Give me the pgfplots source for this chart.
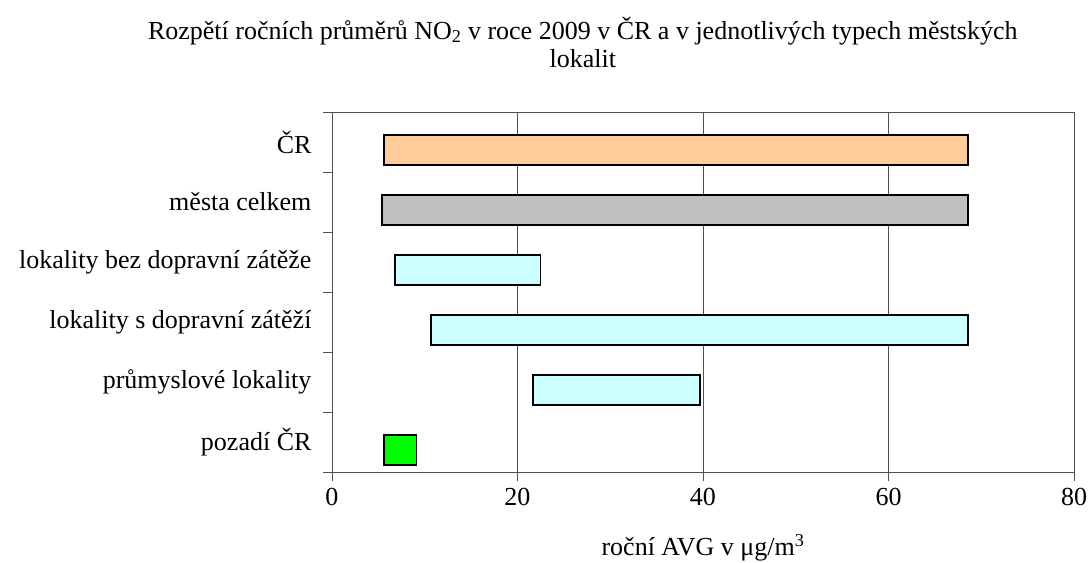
\documentclass[border=0pt]{standalone}
\usepackage{pgfplots}
\pgfplotsset{compat=1.18}
\usepackage{pgfplotstable}
\usepackage{fontspec}
\setmainfont{Liberation Serif}

\definecolor{peach}{HTML}{FFCC99}
\definecolor{bargray}{HTML}{C0C0C0}
\definecolor{palecyan}{HTML}{CCFFFF}
\definecolor{brightgreen}{HTML}{00FF00}
\definecolor{axisgray}{HTML}{505050}

% start of each range and its length, one column per fill colour
\pgfplotstableread{
y start peach gray cyan green
5 5.6 63.0 0 0 0
4 5.4 0 63.2 0 0
3 6.8 0 0 15.7 0
2 10.7 0 0 57.9 0
1 21.7 0 0 18.0 0
0 5.6 0 0 0 3.5
}\ranges

\begin{document}
\begin{tikzpicture}
\path[use as bounding box] (-332pt,-90pt) rectangle (759pt,472pt);
\begin{axis}[
  at={(0,0)}, anchor=south west,
  scale only axis, width=742pt, height=360pt,
  xbar stacked,
  every axis plot/.append style={bar width=30pt, bar shift=-8pt, line width=1.6pt},
  xmin=0, xmax=80, xtick={0,20,...,80},
  ymin=-0.5, ymax=5.5,
  ytick={-0.5,0.5,...,5.5}, yticklabels={},
  extra y ticks={0,1,2,3,4,5},
  extra y tick labels={pozadí ČR, průmyslové lokality, lokality s dopravní zátěží,
    lokality bez dopravní zátěže, města celkem, ČR},
  extra y tick style={major tick length=0pt, yticklabel style={xshift=-17pt}},
  xtick pos=bottom, ytick pos=left,
  tick align=outside, major tick length=9pt,
  axis line style={axisgray, line width=0.9pt},
  every tick/.style={axisgray, line width=0.9pt},
  xmajorgrids, grid style={axisgray, line width=0.9pt},
  tick label style={font=\fontsize{26}{28}\selectfont},
  /pgf/number format/assume math mode=true,
  xticklabel style={yshift=-4pt},
  xlabel={roční AVG v μg/m\textsuperscript{3}},
  xlabel style={font=\fontsize{26}{28}\selectfont, at={(0.5,0)}, anchor=center, yshift=-76pt},
  title={Rozpětí ročních průměrů NO\textsubscript{2} v roce 2009 v ČR a v jednotlivých typech městských\\lokalit},
  title style={font=\fontsize{26}{28}\selectfont, align=center, at={(0.338,1)}, anchor=south, yshift=35pt},
]
\addplot[draw=none, fill=none] table[x=start, y=y] {\ranges};
\addplot[draw=black, fill=peach] table[x=peach, y=y] {\ranges};
\addplot[draw=black, fill=bargray] table[x=gray, y=y] {\ranges};
\addplot[draw=black, fill=palecyan] table[x=cyan, y=y] {\ranges};
\addplot[draw=black, fill=brightgreen] table[x=green, y=y] {\ranges};
\end{axis}
\end{tikzpicture}
\end{document}
